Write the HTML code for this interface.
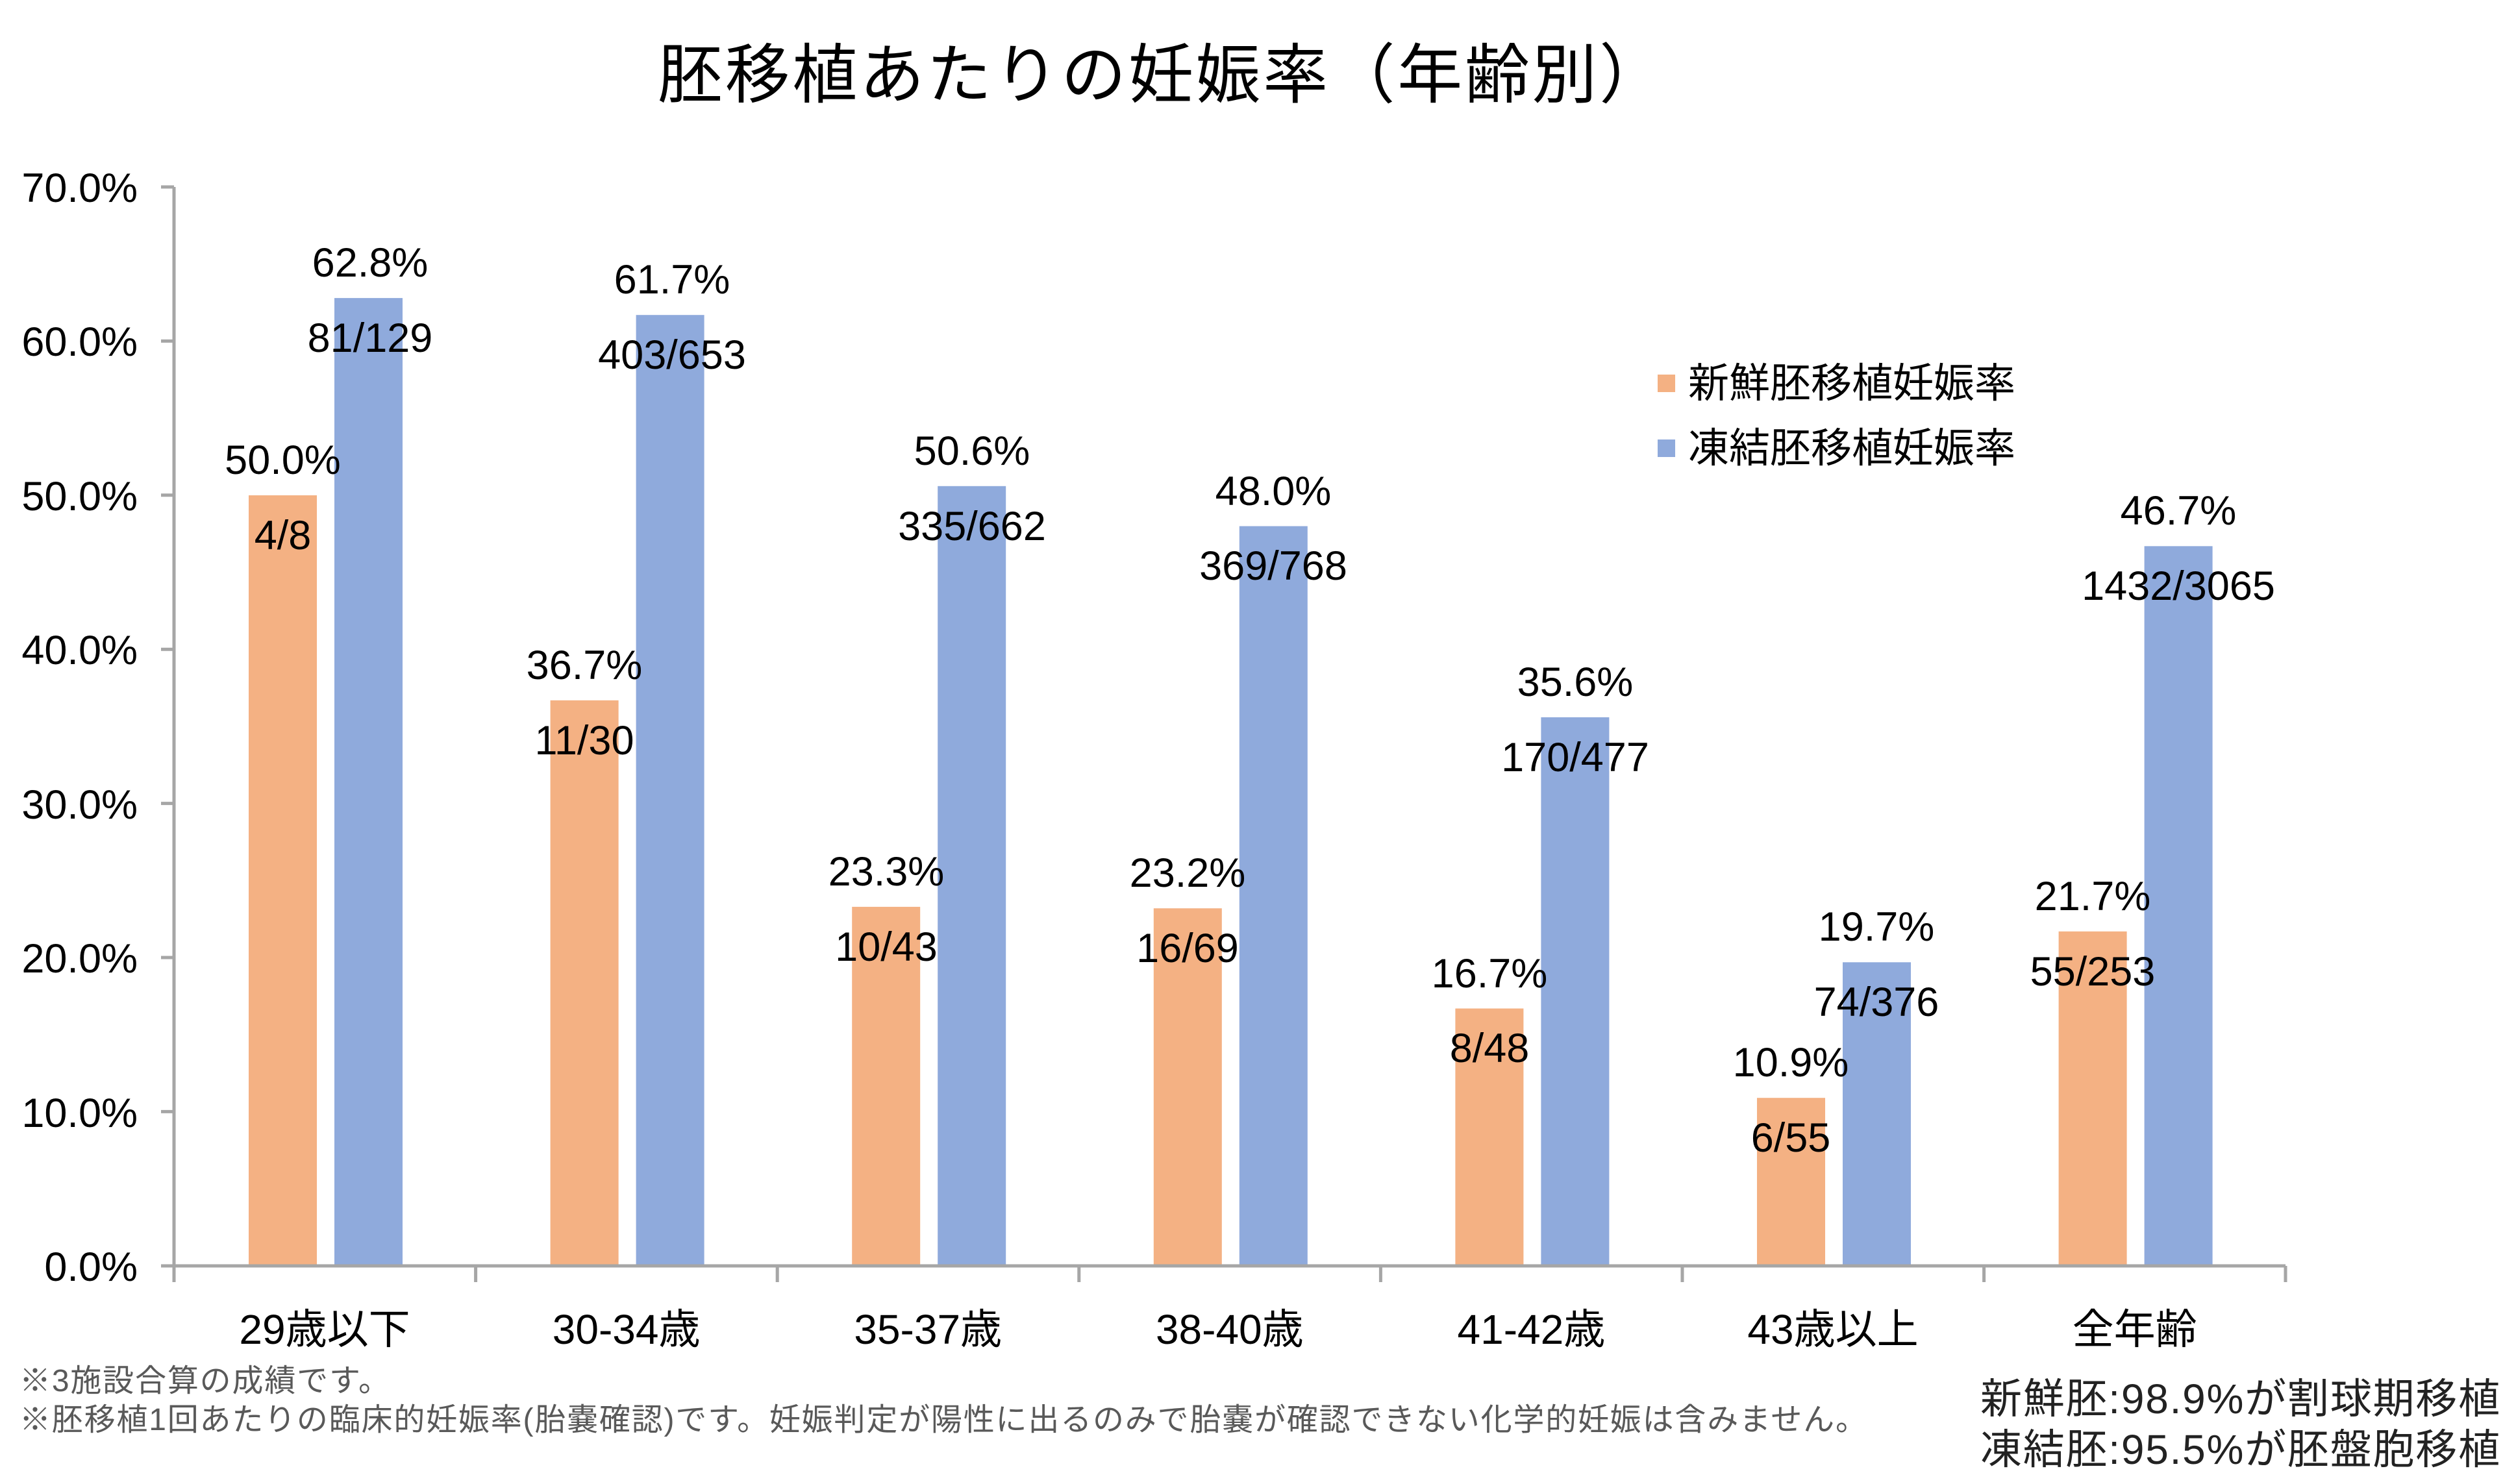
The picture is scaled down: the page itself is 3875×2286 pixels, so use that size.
<!DOCTYPE html>
<html><head><meta charset="utf-8"><style>
html,body{margin:0;padding:0;background:#fff}
svg{display:block}
text{font-family:"Liberation Sans","Noto Sans CJK JP",sans-serif}
</style></head><body>
<svg width="3875" height="2286" viewBox="0 0 3875 2286" xmlns="http://www.w3.org/2000/svg">
<rect width="3875" height="2286" fill="#fff"/>
<text x="1788" y="150" font-size="100" text-anchor="middle" textLength="1550" fill="#000">胚移植あたりの妊娠率（年齢別）</text>

<g font-size="63" text-anchor="end" fill="#000">
<text x="212" y="311">70.0%</text>
<text x="212" y="548">60.0%</text>
<text x="212" y="786">50.0%</text>
<text x="212" y="1023">40.0%</text>
<text x="212" y="1261">30.0%</text>
<text x="212" y="1498">20.0%</text>
<text x="212" y="1736">10.0%</text>
<text x="212" y="1973">0.0%</text>
</g>

<g fill="#F4B183">
<rect x="383" y="763" width="105" height="1187"/>
<rect x="847.6" y="1078.8" width="105" height="871.2"/>
<rect x="1312.2" y="1396.9" width="105" height="553.1"/>
<rect x="1776.8" y="1399.2" width="105" height="550.8"/>
<rect x="2241.4" y="1553.5" width="105" height="396.5"/>
<rect x="2706" y="1691.2" width="105" height="258.8"/>
<rect x="3170.6" y="1434.8" width="105" height="515.2"/>
</g>
<g fill="#8FAADC">
<rect x="515" y="459.1" width="105" height="1490.9"/>
<rect x="979.6" y="485.2" width="105" height="1464.8"/>
<rect x="1444.2" y="748.8" width="105" height="1201.2"/>
<rect x="1908.8" y="810.5" width="105" height="1139.5"/>
<rect x="2373.4" y="1104.9" width="105" height="845.1"/>
<rect x="2838" y="1482.3" width="105" height="467.7"/>
<rect x="3302.6" y="841.3" width="105" height="1108.7"/>
</g>

<g stroke="#A6A6A6" stroke-width="5" fill="none">
<line x1="268" y1="288" x2="268" y2="1950"/>
<line x1="268" y1="1950" x2="3520" y2="1950"/>
<path d="M248 288H268M248 525.4H268M248 762.8H268M248 1000.2H268M248 1237.6H268M248 1475H268M248 1712.4H268M248 1950H268"/>
<path d="M268 1950V1975M732.6 1950V1975M1197.2 1950V1975M1661.8 1950V1975M2126.4 1950V1975M2591 1950V1975M3055.6 1950V1975M3520 1950V1975"/>
</g>

<g font-size="63" text-anchor="middle" fill="#000">
<text x="435.5" y="730">50.0%</text><text x="435.5" y="846">4/8</text>
<text x="570" y="426">62.8%</text><text x="570" y="542">81/129</text>
<text x="900" y="1046">36.7%</text><text x="900" y="1162">11/30</text>
<text x="1035" y="452">61.7%</text><text x="1035" y="568">403/653</text>
<text x="1365" y="1364">23.3%</text><text x="1365" y="1480">10/43</text>
<text x="1497" y="716">50.6%</text><text x="1497" y="832">335/662</text>
<text x="1829" y="1366">23.2%</text><text x="1829" y="1482">16/69</text>
<text x="1961" y="778">48.0%</text><text x="1961" y="893">369/768</text>
<text x="2294" y="1521">16.7%</text><text x="2294" y="1636">8/48</text>
<text x="2426" y="1072">35.6%</text><text x="2426" y="1188">170/477</text>
<text x="2758" y="1658">10.9%</text><text x="2758" y="1774">6/55</text>
<text x="2890" y="1449">19.7%</text><text x="2890" y="1565">74/376</text>
<text x="3223" y="1402">21.7%</text><text x="3223" y="1518">55/253</text>
<text x="3355" y="808">46.7%</text><text x="3355" y="924">1432/3065</text>
</g>

<g font-size="64" text-anchor="middle" fill="#000">
<text x="500" y="2070">29歳以下</text>
<text x="964.6" y="2070">30-34歳</text>
<text x="1429.2" y="2070">35-37歳</text>
<text x="1893.8" y="2070">38-40歳</text>
<text x="2358.4" y="2070">41-42歳</text>
<text x="2823" y="2070">43歳以上</text>
<text x="3287.6" y="2070">全年齢</text>
</g>

<rect x="2553" y="577" width="27" height="27" fill="#F4B183"/>
<rect x="2553" y="677" width="27" height="27" fill="#8FAADC"/>
<text x="2600" y="612" font-size="63" fill="#000">新鮮胚移植妊娠率</text>
<text x="2600" y="712" font-size="63" fill="#000">凍結胚移植妊娠率</text>

<text x="30" y="2143" font-size="48" fill="#595959" textLength="570">※3施設合算の成績です。</text>
<text x="30" y="2203" font-size="48" fill="#595959" textLength="2845">※胚移植1回あたりの臨床的妊娠率(胎嚢確認)です。妊娠判定が陽性に出るのみで胎嚢が確認できない化学的妊娠は含みません。</text>

<text x="3050" y="2177" font-size="64" fill="#222" textLength="800">新鮮胚:98.9%が割球期移植</text>
<text x="3050" y="2255" font-size="64" fill="#222" textLength="800">凍結胚:95.5%が胚盤胞移植</text>
</svg>
</body></html>
